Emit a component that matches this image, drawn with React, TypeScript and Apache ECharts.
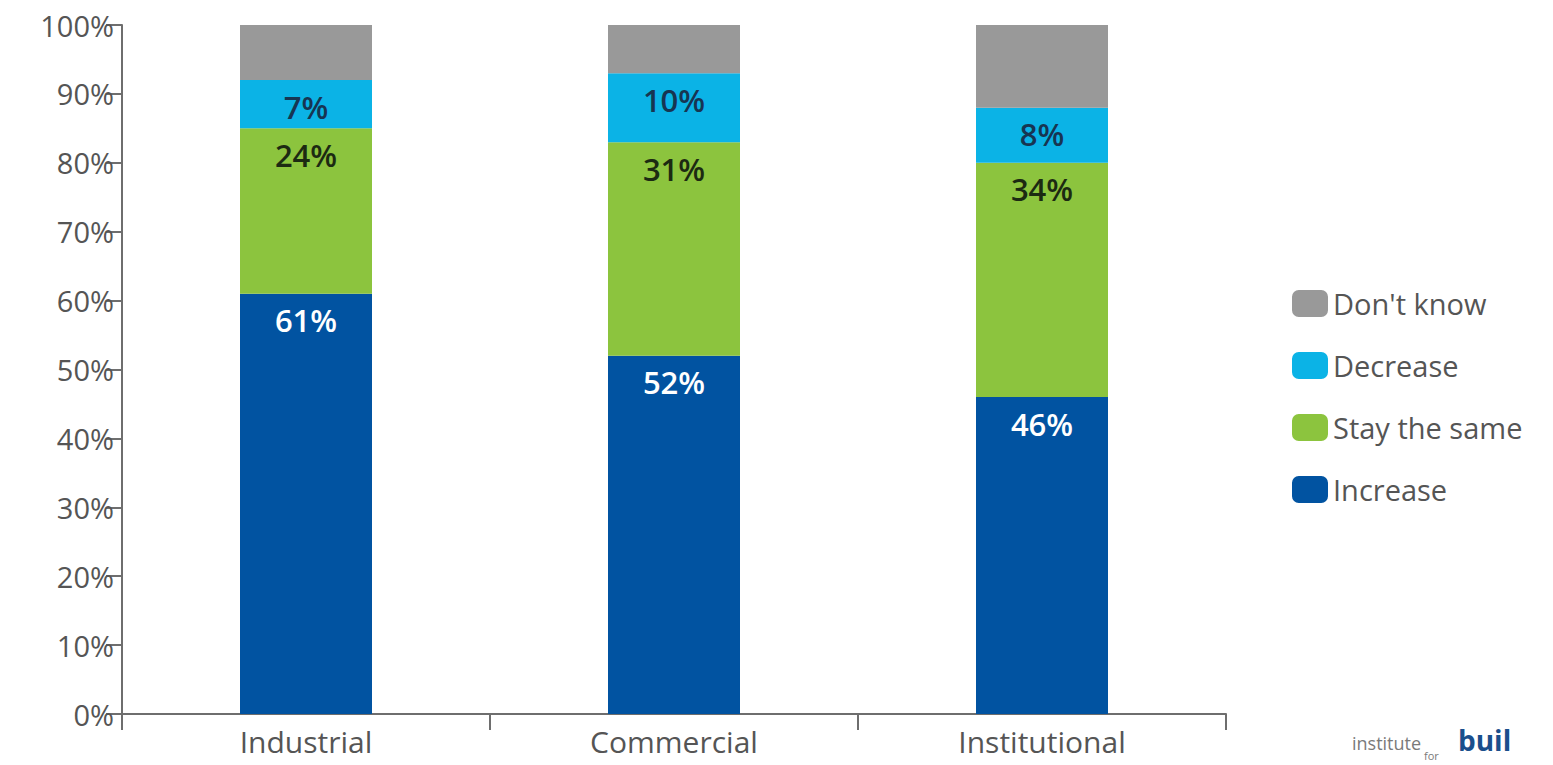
import React, { useEffect, useRef } from "react";
import * as echarts from "echarts";

const categories = ["Industrial", "Commercial", "Institutional"];
const increase = [61, 52, 46];
const staySame = [24, 31, 34];
const decrease = [7, 10, 8];
const dontKnow = [8, 7, 12];
const yTicks = [0, 10, 20, 30, 40, 50, 60, 70, 80, 90, 100];
const legendOrder = ["Don't know", "Decrease", "Stay the same", "Increase"];

const FONT = "'Open Sans', 'Noto Sans', sans-serif";

export default function App() {
  const ref = useRef<HTMLDivElement>(null);
  useEffect(() => {
    document.body.style.margin = "0";
    const chart = echarts.init(ref.current!, null, { renderer: "svg" });
    const label = (color: string) => ({
      show: true,
      position: "insideTop",
      distance: 11,
      color,
      fontSize: 31,
      fontFamily: FONT,
      fontWeight: 600,
      formatter: (p: any) => `${p.value}%`,
    });
    chart.setOption({
      animation: false,
      backgroundColor: "#ffffff",
      textStyle: { fontFamily: FONT },
      grid: { left: 122, right: 327, top: 25, bottom: 51, containLabel: false },
      legend: {
        data: legendOrder,
        orient: "vertical",
        left: 1287,
        top: 284,
        itemWidth: 36,
        itemHeight: 27,
        itemGap: 33,
        icon: "roundRect",
        textStyle: { fontSize: 29, color: "#555555", fontFamily: FONT },
        selectedMode: false,
      },
      xAxis: {
        type: "category",
        data: categories,
        axisLine: { lineStyle: { color: "#6e6e6e", width: 2 } },
        axisTick: { show: true, length: 16, alignWithLabel: false, lineStyle: { color: "#6e6e6e", width: 2 } },
        axisLabel: { fontSize: 30, color: "#555555", margin: 12, fontFamily: FONT },
      },
      yAxis: {
        type: "value",
        min: 0,
        max: 100,
        interval: 10,
        splitLine: { show: false },
        axisLine: { show: true, lineStyle: { color: "#6e6e6e", width: 2 } },
        axisTick: { show: true, length: 16, lineStyle: { color: "#6e6e6e", width: 2 } },
        axisLabel: {
          fontSize: 29,
          color: "#555555",
          margin: 8,
          fontFamily: FONT,
          formatter: (v: number) => (yTicks.includes(v) ? `${v}%` : ""),
        },
      },
      series: [
        {
          name: "Increase",
          type: "bar",
          stack: "total",
          barWidth: 132,
          data: increase,
          itemStyle: { color: "#0153a1" },
          label: label("#ffffff"),
        },
        {
          name: "Stay the same",
          type: "bar",
          stack: "total",
          barWidth: 132,
          data: staySame,
          itemStyle: { color: "#8cc43e" },
          label: label("#1c2a12"),
        },
        {
          name: "Decrease",
          type: "bar",
          stack: "total",
          barWidth: 132,
          data: decrease,
          itemStyle: { color: "#0bb3e6" },
          label: label("#173552"),
        },
        {
          name: "Don't know",
          type: "bar",
          stack: "total",
          barWidth: 132,
          data: dontKnow,
          itemStyle: { color: "#999999" },
          label: { show: false },
        },
      ],
      graphic: [
        {
          type: "text",
          left: 1352,
          top: 734,
          style: { text: "institute", fontSize: 18, fill: "#7a7a7a", fontFamily: FONT },
        },
        {
          type: "text",
          left: 1424,
          top: 750,
          style: { text: "for", fontSize: 11, fill: "#7a7a7a", fontFamily: FONT },
        },
        {
          type: "text",
          left: 1458,
          top: 726,
          style: { text: "buil", fontSize: 28, fontWeight: "bold", fill: "#1a4f8c", fontFamily: FONT },
        },
      ],
    });
    return () => chart.dispose();
  }, []);
  return <div ref={ref} style={{ width: 1553, height: 765 }} />;
}
